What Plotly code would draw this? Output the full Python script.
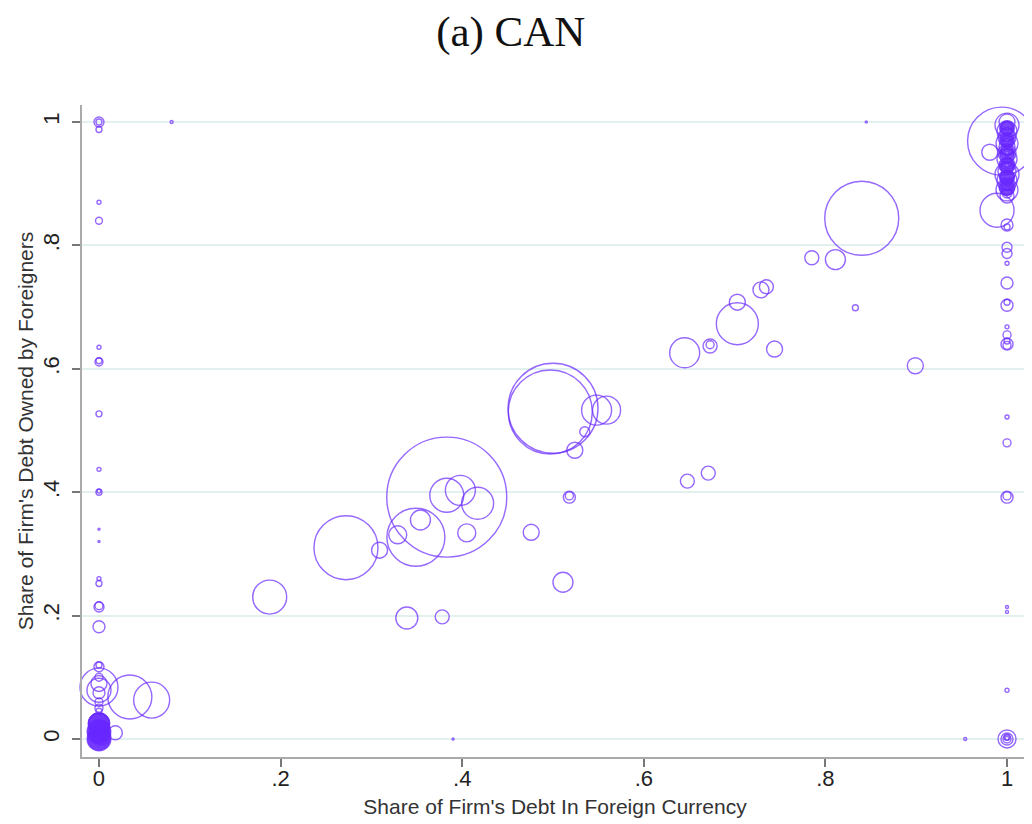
import plotly.graph_objects as go

# ---- Data -----------------------------------------------------------------
# Firms with interior shares: share of debt in foreign currency (x),
# share of debt owned by foreigners (y), and debt weight (bubble area)
mid_fx = [
    0.383, 0.500, 0.497, 0.840, 0.994, 0.272, 0.349, 0.188, 0.703, 0.034,
    0.058, 0.989, 0.383, 0.398, 0.417, 0.548, 0.559, 0.645,
    0.309, 0.329, 0.354, 0.405, 0.476, 0.518, 0.518, 0.511, 0.339, 0.378,
    0.535, 0.524, 0.673, 0.673, 0.703, 0.729, 0.735, 0.833, 0.744, 0.899,
    0.671, 0.648, 0.785, 0.811, 0.981, 0.080, 0.845, 0.390, 0.954, 0.018,
    0.002, 0.003, 0.004,
]
mid_foreign = [
    0.392, 0.536, 0.530, 0.844, 0.969, 0.310, 0.327, 0.230, 0.673, 0.068,
    0.063, 0.857, 0.395, 0.403, 0.382, 0.533, 0.533, 0.626,
    0.306, 0.331, 0.355, 0.334, 0.335, 0.392, 0.394, 0.254, 0.196, 0.198,
    0.498, 0.468, 0.637, 0.639, 0.708, 0.728, 0.733, 0.699, 0.632, 0.605,
    0.431, 0.418, 0.780, 0.777, 0.951, 1.000, 1.000, 0.000, 0.000, 0.010,
    0.012, 0.005, 0.020,
]
mid_weight = [
    360.0, 202.5, 176.4, 136.9, 115.6, 102.4, 84.1, 28.9, 44.1, 48.4,
    32.4, 28.9, 28.9, 22.5, 25.6, 22.5, 19.6, 22.5,
    6.4, 8.1, 10.0, 8.1, 6.4, 3.6, 1.6, 10.0, 12.1, 4.9,
    2.5, 6.4, 4.9, 1.6, 6.4, 6.4, 4.9, 0.9, 6.4, 6.4,
    4.9, 4.9, 4.9, 10.0, 6.4, 0.225, 0.1, 0.1, 0.225, 4.9,
    6.4, 8.1, 3.6,
]

# Firms with no foreign-currency debt (x = 0)
zero_fx = [
    0, 0, 0, 0, 0, 0, 0, 0, 0, 0, 0, 0, 0, 0, 0, 0, 0, 0, 0, 0,
    0, 0, 0, 0, 0, 0, 0, 0, 0,
    0, 0, 0, 0, 0, 0, 0, 0, 0, 0, 0, 0, 0, 0, 0, 0, 0, 0, 0, 0,
    0, 0, 0, 0, 0, 0, 0, 0, 0, 0, 0, 0, 0, 0, 0, 0, 0, 0, 0, 0,
    0, 0, 0, 0, 0, 0, 0, 0, 0, 0, 0, 0, 0, 0, 0, 0, 0, 0, 0, 0,
]
zero_foreign = [
    1.000, 1.000, 0.988, 0.870, 0.840, 0.635, 0.611, 0.613, 0.527, 0.437,
    0.400, 0.402, 0.340, 0.320, 0.260, 0.252, 0.216, 0.214, 0.182, 0.117,
    0.120, 0.100, 0.090, 0.075, 0.060, 0.084, 0.079, 0.050, 0.045,
    0.000, 0.000, 0.000, 0.000, 0.000, 0.000, 0.000, 0.000, 0.000, 0.000,
    0.000, 0.000, 0.000, 0.000, 0.000, 0.000, 0.000, 0.000, 0.000, 0.000,
    0.012, 0.012, 0.012, 0.012, 0.012, 0.012, 0.012, 0.012, 0.012, 0.012,
    0.012, 0.012, 0.012, 0.012, 0.012, 0.012, 0.012, 0.012, 0.012, 0.012,
    0.025, 0.025, 0.025, 0.025, 0.025, 0.025, 0.025, 0.025, 0.025, 0.025,
    0.025, 0.025, 0.025, 0.025, 0.025, 0.025, 0.025, 0.025, 0.025, 0.025,
]
zero_weight = [
    2.5, 0.9, 0.9, 0.4, 1.2, 0.4, 1.6, 0.9, 0.9, 0.4,
    0.9, 0.4, 0.1, 0.1, 0.4, 0.9, 1.6, 2.5, 3.6, 2.5,
    0.9, 1.6, 6.4, 3.6, 1.6, 36.1, 14.4, 1.6, 0.9,
    0.1, 0.25, 0.45, 0.7, 1.0, 1.4, 1.8, 2.3, 2.9, 3.5,
    4.2, 5.0, 5.8, 6.8, 7.8, 8.9, 10.0, 11.3, 12.6, 14.0,
    0.1, 0.25, 0.45, 0.7, 1.0, 1.4, 1.8, 2.3, 2.9, 3.5,
    4.2, 5.0, 5.8, 6.8, 7.8, 8.9, 10.0, 11.3, 12.6, 14.0,
    0.1, 0.25, 0.45, 0.7, 1.0, 1.4, 1.8, 2.3, 2.9, 3.5,
    4.2, 5.0, 5.8, 6.8, 7.8, 8.9, 10.0, 10.5, 11.0, 11.5,
]

# Firms with all debt in foreign currency (x = 1)
one_fx = [
    1, 1, 1, 1, 1, 1, 1, 1, 1, 1, 1, 1, 1, 1, 1, 1, 1, 1, 1, 1,
    1, 1, 1, 1, 1,
    1, 1, 1, 1, 1, 1, 1, 1, 1, 1, 1, 1, 1, 1, 1, 1, 1, 1, 1, 1,
    1, 1, 1, 1, 1, 1, 1, 1, 1, 1, 1, 1, 1, 1, 1, 1, 1, 1, 1, 1,
    1, 1, 1, 1, 1, 1, 1, 1, 1, 1, 1, 1, 1, 1, 1, 1, 1, 1, 1, 1,
    1, 1, 1, 1, 1, 1, 1, 1, 1, 1, 1, 1, 1, 1, 1, 1, 1, 1, 1, 1,
    1, 1, 1, 1, 1,
]
one_foreign = [
    1.000, 0.995, 0.990, 0.985, 0.980, 0.975, 0.970, 0.965, 0.960, 0.955,
    0.950, 0.945, 0.940, 0.935, 0.930, 0.925, 0.920, 0.915, 0.910, 0.905,
    0.900, 0.895, 0.890, 0.885, 0.880,
    0.990, 0.990, 0.990, 0.990, 0.990, 0.990, 0.990, 0.990, 0.990, 0.990,
    0.970, 0.970, 0.970, 0.970, 0.970, 0.970, 0.970, 0.970, 0.970, 0.970,
    0.950, 0.950, 0.950, 0.950, 0.950, 0.950, 0.950, 0.950, 0.950, 0.950,
    0.930, 0.930, 0.930, 0.930, 0.930, 0.930, 0.930, 0.930, 0.930, 0.930,
    0.910, 0.910, 0.910, 0.910, 0.910, 0.910, 0.910, 0.910, 0.910, 0.910,
    0.893, 0.893, 0.893, 0.893, 0.893, 0.893, 0.893, 0.893, 0.893, 0.893,
    0.833, 0.830, 0.797, 0.787, 0.771, 0.739, 0.703, 0.708, 0.668, 0.655,
    0.640, 0.638, 0.645, 0.522, 0.480, 0.392, 0.394, 0.214, 0.206, 0.079,
    0.000, 0.000, 0.003, 0.000, 0.001,
]
one_weight = [
    6.4, 14.4, 3.6, 10.0, 4.9, 8.1, 2.5, 12.1, 6.4, 3.6,
    8.1, 4.9, 10.0, 2.5, 6.4, 3.6, 8.1, 14.4, 4.9, 10.0,
    3.6, 6.4, 12.1, 2.5, 4.9,
    0.1, 0.3, 0.6, 1.0, 1.5, 2.1, 2.8, 3.6, 4.5, 5.5,
    0.1, 0.3, 0.6, 1.0, 1.5, 2.1, 2.8, 3.6, 4.5, 5.5,
    0.1, 0.3, 0.6, 1.0, 1.5, 2.1, 2.8, 3.6, 4.5, 5.5,
    0.1, 0.3, 0.6, 1.0, 1.5, 2.1, 2.8, 3.6, 4.5, 5.5,
    0.1, 0.3, 0.6, 1.0, 1.5, 2.1, 2.8, 3.6, 4.5, 5.5,
    0.1, 0.3, 0.6, 1.0, 1.5, 2.1, 2.8, 3.6, 4.5, 5.5,
    3.6, 0.9, 2.5, 2.5, 0.4, 3.6, 3.6, 0.9, 0.4, 1.6,
    3.6, 1.6, 0.9, 0.4, 1.6, 3.6, 1.6, 0.225, 0.225, 0.4,
    8.1, 3.6, 0.9, 1.6, 0.4,
]

tick_vals = [0, 0.2, 0.4, 0.6, 0.8, 1]
tick_text = ["0", ".2", ".4", ".6", ".8", "1"]

# ---- Figure ---------------------------------------------------------------
marker_color = "rgb(104,40,255)"

share_fx = mid_fx + zero_fx + one_fx
share_foreign = mid_foreign + zero_foreign + one_foreign
debt_weight = mid_weight + zero_weight + one_weight

fig = go.Figure()
fig.add_trace(go.Scatter(
    x=share_fx,
    y=share_foreign,
    mode="markers",
    cliponaxis=False,
    marker=dict(
        symbol="circle-open",
        size=debt_weight,
        sizemode="area",
        sizeref=0.05,
        sizemin=1,
        color=marker_color,
        line=dict(width=1.4, color=marker_color),
    ),
    hoverinfo="x+y",
    showlegend=False,
))

tick_font = dict(family="Liberation Sans, Arial, sans-serif", size=22, color="#222222")
title_font = dict(family="Liberation Sans, Arial, sans-serif", size=21, color="#333333")

fig.update_layout(
    width=1024,
    height=816,
    paper_bgcolor="white",
    plot_bgcolor="white",
    margin=dict(l=74, r=4, t=97, b=67),
    title=dict(
        text="(a) CAN",
        x=0.491, xanchor="center",
        y=0.972, yanchor="middle",
        font=dict(family="Liberation Serif, Times New Roman, serif", size=43, color="#111111"),
    ),
    xaxis=dict(
        range=[-0.0187, 1.0231],
        tickvals=tick_vals,
        ticktext=tick_text,
        ticks="outside",
        ticklen=8,
        tickwidth=1.5,
        tickcolor="#777777",
        ticklabelstandoff=-7,
        showline=True,
        linecolor="#aaaaaa",
        linewidth=2,
        showgrid=False,
        zeroline=False,
        tickfont=tick_font,
        title=dict(
            text="Share of Firm's Debt In Foreign Currency",
            font=title_font,
            standoff=9,
        ),
    ),
    yaxis=dict(
        range=[-0.0292, 1.0276],
        tickvals=tick_vals,
        ticktext=tick_text,
        tickangle=-90,
        ticks="outside",
        ticklen=8,
        tickwidth=1.5,
        tickcolor="#777777",
        ticklabelstandoff=4,
        showline=True,
        linecolor="#aaaaaa",
        linewidth=2,
        showgrid=True,
        gridcolor="#e2f0f0",
        gridwidth=1.5,
        zeroline=False,
        tickfont=tick_font,
        title=dict(
            text="Share of Firm's Debt Owned by Foreigners",
            font=title_font,
            standoff=0,
        ),
    ),
)

fig.write_html("out.html")
